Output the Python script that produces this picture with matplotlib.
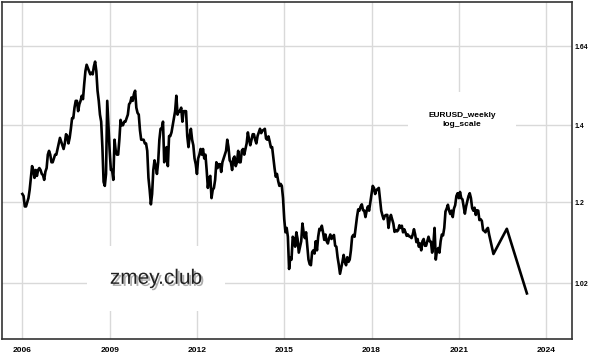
import numpy as np
import matplotlib
matplotlib.use("Agg")
import matplotlib.pyplot as plt
import matplotlib.patheffects as pe

# EURUSD, two readings per month
y2006 = [1.22, 1.215, 1.19, 1.19, 1.20, 1.21, 1.23, 1.26, 1.29, 1.28, 1.26, 1.28, 1.265, 1.28, 1.285, 1.28, 1.27, 1.267, 1.255, 1.276, 1.285, 1.32, 1.33, 1.32]
y2007 = [1.30, 1.30, 1.31, 1.32, 1.32, 1.335, 1.35, 1.365, 1.355, 1.345, 1.335, 1.35, 1.375, 1.37, 1.35, 1.365, 1.39, 1.42, 1.42, 1.45, 1.47, 1.47, 1.44, 1.46]
y2008 = [1.47, 1.485, 1.475, 1.52, 1.56, 1.58, 1.57, 1.56, 1.55, 1.555, 1.55, 1.575, 1.59, 1.56, 1.50, 1.47, 1.43, 1.41, 1.34, 1.25, 1.24, 1.27, 1.47, 1.40]
y2009 = [1.33, 1.28, 1.28, 1.255, 1.36, 1.33, 1.32, 1.32, 1.36, 1.415, 1.40, 1.40, 1.41, 1.41, 1.42, 1.43, 1.46, 1.465, 1.48, 1.47, 1.49, 1.50, 1.45, 1.435]
y2010 = [1.43, 1.386, 1.36, 1.36, 1.36, 1.35, 1.35, 1.33, 1.26, 1.23, 1.195, 1.22, 1.28, 1.305, 1.29, 1.27, 1.30, 1.36, 1.39, 1.39, 1.41, 1.30, 1.33, 1.34]
y2011 = [1.29, 1.37, 1.37, 1.38, 1.40, 1.42, 1.44, 1.485, 1.43, 1.44, 1.44, 1.45, 1.41, 1.44, 1.44, 1.44, 1.37, 1.34, 1.37, 1.39, 1.36, 1.345, 1.31, 1.295]
y2012 = [1.27, 1.31, 1.32, 1.335, 1.32, 1.335, 1.31, 1.32, 1.28, 1.235, 1.26, 1.265, 1.21, 1.23, 1.235, 1.255, 1.30, 1.285, 1.295, 1.295, 1.275, 1.30, 1.31, 1.32]
y2013 = [1.33, 1.36, 1.34, 1.305, 1.30, 1.28, 1.31, 1.315, 1.29, 1.30, 1.33, 1.30, 1.30, 1.33, 1.335, 1.32, 1.335, 1.35, 1.38, 1.36, 1.345, 1.36, 1.375, 1.375]
y2014 = [1.36, 1.35, 1.37, 1.38, 1.39, 1.378, 1.385, 1.387, 1.39, 1.363, 1.36, 1.369, 1.355, 1.339, 1.34, 1.313, 1.285, 1.263, 1.27, 1.252, 1.24, 1.245, 1.24, 1.21]
y2015 = [1.16, 1.13, 1.14, 1.12, 1.05, 1.075, 1.07, 1.12, 1.115, 1.098, 1.13, 1.115, 1.085, 1.098, 1.11, 1.15, 1.13, 1.117, 1.13, 1.10, 1.07, 1.06, 1.058, 1.086]
y2016 = [1.09, 1.083, 1.11, 1.09, 1.12, 1.138, 1.135, 1.145, 1.13, 1.113, 1.125, 1.11, 1.105, 1.117, 1.125, 1.115, 1.12, 1.124, 1.10, 1.098, 1.075, 1.059, 1.04, 1.052]
y2017 = [1.065, 1.08, 1.065, 1.058, 1.075, 1.065, 1.07, 1.09, 1.12, 1.124, 1.12, 1.142, 1.165, 1.183, 1.18, 1.19, 1.195, 1.181, 1.18, 1.165, 1.18, 1.19, 1.18, 1.20]
y2018 = [1.22, 1.24, 1.235, 1.22, 1.23, 1.232, 1.235, 1.208, 1.18, 1.169, 1.16, 1.168, 1.17, 1.17, 1.14, 1.16, 1.17, 1.16, 1.15, 1.131, 1.135, 1.132, 1.135, 1.146]
y2019 = [1.14, 1.145, 1.13, 1.137, 1.13, 1.122, 1.125, 1.121, 1.12, 1.117, 1.125, 1.137, 1.125, 1.108, 1.115, 1.098, 1.105, 1.09, 1.11, 1.115, 1.10, 1.10, 1.11, 1.12]
y2020 = [1.11, 1.109, 1.085, 1.103, 1.14, 1.07, 1.09, 1.095, 1.085, 1.11, 1.125, 1.123, 1.14, 1.178, 1.185, 1.194, 1.18, 1.172, 1.18, 1.165, 1.185, 1.193, 1.215, 1.222]
y2021 = [1.21, 1.225, 1.21, 1.207, 1.19, 1.173, 1.19, 1.202, 1.215, 1.222, 1.21, 1.186, 1.18, 1.187, 1.17, 1.181, 1.18, 1.158, 1.16, 1.156, 1.135, 1.133, 1.13, 1.137]
y2022 = [1.14, 1.125]

# hand drawn projection after the data ends
fc_year = [2022.19, 2022.65, 2023.34]
fc_val = [1.082, 1.138, 1.0]

x_ticks = [2006, 2009, 2012, 2015, 2018, 2021, 2024]
y_ticks = [1.02, 1.2, 1.4, 1.64]

hist = (y2006 + y2007 + y2008 + y2009 + y2010 + y2011 + y2012 + y2013 + y2014
        + y2015 + y2016 + y2017 + y2018 + y2019 + y2020 + y2021 + y2022)
hist_x = 2006 + np.arange(len(hist)) / 24
xs = np.concatenate([hist_x, fc_year])
ys = np.concatenate([hist, fc_val])

fig = plt.figure(figsize=(5.9, 3.54), dpi=100)
ax = fig.add_axes([0.0034, 0.0424, 0.9656, 0.952])

ax.plot(xs, ys, color='black', lw=1.9, zorder=3)

ax.set_yscale('log')
ax.set_xlim(2005.30, 2024.88)
ax.set_ylim(0.9128, 1.7915)
ax.set_xticks(x_ticks)
ax.set_xticklabels([str(t) for t in x_ticks])
ax.set_yticks(y_ticks)
ax.set_yticklabels([str(t) for t in y_ticks])
ax.yaxis.set_minor_locator(matplotlib.ticker.NullLocator())
ax.yaxis.tick_right()
ax.tick_params(length=0)
ax.tick_params(axis='x', pad=6, labelsize=6)
ax.tick_params(axis='y', pad=2, labelsize=5)
for lab in ax.get_xticklabels() + ax.get_yticklabels():
    lab.set_fontweight('bold')
    lab.set_family('Liberation Sans')

ax.grid(True, color='#d9d9d9', lw=1, zorder=0)
ax.set_axisbelow(True)
for s in ax.spines.values():
    s.set_color('#333333')
    s.set_linewidth(1.2)

ax.text(0.2705, 0.18, 'zmey.club', transform=ax.transAxes, ha='center', va='center',
        fontsize=15, family='Liberation Sans', color='#222222', zorder=2,
        bbox=dict(boxstyle='square,pad=1.1', facecolor='white', edgecolor='none'),
        path_effects=[pe.withSimplePatchShadow(offset=(1.5, -1.5), shadow_rgbFace='#777777', alpha=0.6)])

ax.text(0.807, 0.65, 'EURUSD_weekly\nlog_scale', transform=ax.transAxes, ha='center', va='center',
        fontsize=6, fontweight='bold', family='Liberation Sans', color='black', zorder=2,
        linespacing=1.3,
        bbox=dict(boxstyle='square,pad=2.4', facecolor='white', edgecolor='none'))

fig.savefig('out.png', dpi=100)
